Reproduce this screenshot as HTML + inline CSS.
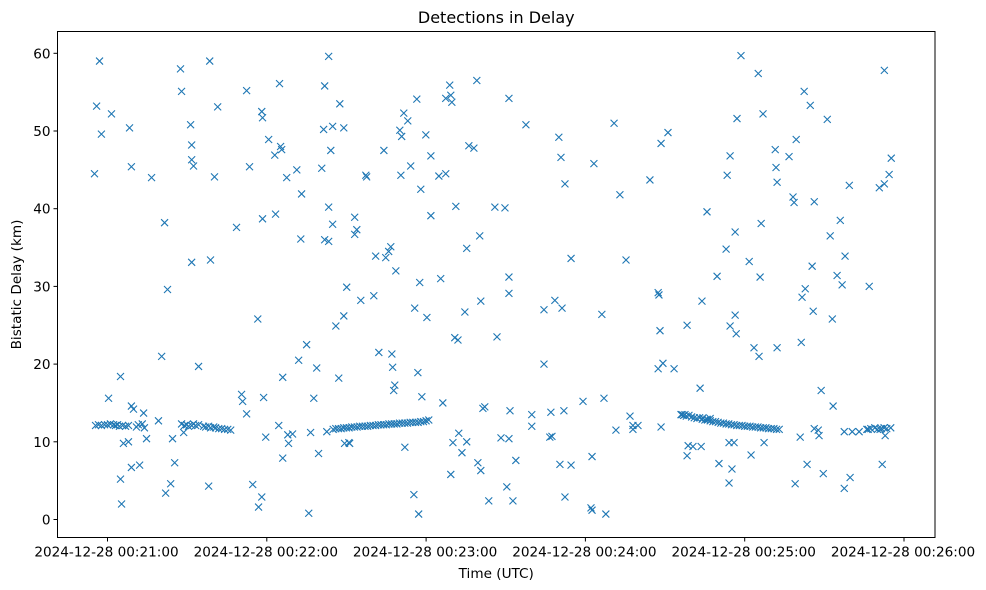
<!DOCTYPE html>
<html><head><meta charset="utf-8"><style>
body{margin:0;background:#fff;}
svg{display:block;font-family:"DejaVu Sans","Liberation Sans",sans-serif;}
</style></head><body>
<svg id="chart" width="986" height="590"></svg>
<script>
const tickSeconds=[60,120,180,240,300,360];
const tickLabels=["2024-12-28 00:21:00","2024-12-28 00:22:00","2024-12-28 00:23:00","2024-12-28 00:24:00","2024-12-28 00:25:00","2024-12-28 00:26:00"];
const yTicks=[0,10,20,30,40,50,60];
const scatterTimes=[
55.1,55.9,57.0,57.7,60.4,61.5,64.9,64.9,65.3,66.0,
67.9,68.3,69.0,69.0,69.8,69.0,72.1,73.6,74.7,76.6,
79.2,80.4,81.5,81.9,82.6,83.8,84.5,85.3,87.5,87.9,
88.7,91.3,91.7,91.7,91.7,92.4,94.3,98.1,98.5,98.8,
100.3,101.5,108.6,110.5,110.9,112.4,112.4,113.5,114.7,116.6,
116.9,118.1,118.1,118.4,118.4,118.8,119.6,120.7,123.0,123.3,
124.5,124.8,125.2,125.6,126.0,126.0,127.5,127.9,128.2,129.7,
131.3,132.0,132.8,133.1,135.0,135.8,136.5,137.7,138.8,139.5,
140.7,141.4,141.8,141.8,142.6,143.3,143.3,143.3,144.1,144.8,
144.8,146.0,147.1,147.5,149.0,149.0,149.3,150.1,150.9,151.2,
153.1,153.1,153.9,155.4,157.3,157.6,160.3,161.0,162.2,164.1,
164.8,165.9,166.7,167.1,167.4,167.8,168.2,168.6,170.1,170.5,
170.8,171.6,172.0,173.1,174.2,175.4,175.7,176.5,176.9,177.2,
177.6,178.0,178.4,179.9,180.3,181.8,181.8,184.8,185.5,186.3,
187.4,187.4,188.9,189.3,189.3,189.7,190.1,190.8,191.2,192.0,
192.3,193.5,194.6,195.3,195.3,196.1,198.0,199.1,199.5,200.2,
200.6,200.6,201.4,202.1,203.6,205.9,206.7,208.2,209.7,210.4,
211.2,211.2,211.2,211.2,211.6,212.7,213.8,217.6,219.8,219.8,
224.4,224.4,226.6,227.0,227.4,228.5,230.0,230.4,230.8,231.2,
231.9,232.3,232.3,234.6,234.6,239.1,242.1,242.5,242.5,243.2,
246.2,247.0,247.7,250.8,251.5,253.0,255.3,256.8,257.9,257.9,
259.8,264.3,267.4,267.7,267.4,268.1,268.5,268.5,269.2,271.1,
273.4,276.4,277.5,278.3,278.3,278.7,280.5,283.2,283.6,283.9,
284.3,285.8,285.8,287.0,289.6,290.3,293.0,293.4,294.1,294.1,
294.5,294.5,295.2,296.4,296.4,296.0,296.8,297.1,298.6,301.7,
302.4,303.5,305.1,305.4,305.8,306.2,306.9,307.3,311.5,311.8,
312.2,312.2,316.7,318.2,318.6,319.0,319.4,320.9,321.3,321.6,
322.4,322.8,323.5,324.7,325.4,325.8,326.2,326.2,327.7,328.0,
328.8,329.6,331.1,332.2,333.0,333.3,334.8,336.0,336.7,337.5,
337.5,337.8,339.4,339.7,340.5,343.1,346.5,346.9,350.7,351.0,
351.8,352.6,352.6,352.9,354.4,355.2];
const scatterDelays=[
44.5,53.2,59,49.6,15.6,52.2,18.4,5.2,2,9.8,
10,50.4,45.4,14.6,14.2,6.7,7,13.7,10.4,44,
12.7,21,38.2,3.4,29.6,4.6,10.4,7.3,58,55.1,
11.2,50.8,48.2,46.3,33.1,45.5,19.7,4.3,59,33.4,
44.1,53.1,37.6,16.1,15.2,55.2,13.6,45.4,4.5,25.8,
1.6,2.9,52.5,51.7,38.7,15.7,10.6,48.9,46.9,39.3,
12.1,56.1,48,47.6,18.3,7.9,44,10.9,9.8,11,
45,20.5,36.1,41.9,22.5,0.8,11.2,15.6,19.5,8.5,
45.2,50.2,55.8,36,11.3,59.6,40.2,35.8,47.5,50.6,
38,24.9,18.2,53.5,26.2,50.4,9.8,29.9,9.9,9.8,
38.9,36.7,37.3,28.2,44.3,44.1,28.8,33.9,21.5,47.5,
33.7,34.5,35.1,21.3,19.6,16.6,17.3,32,50.1,44.3,
49.3,52.3,9.3,51.3,45.5,3.2,27.2,54.1,18.9,0.7,
30.5,42.5,15.8,49.5,26,39.1,46.8,44.2,31,15,
44.5,54.2,55.9,5.8,54.6,53.7,9.9,23.4,40.3,23.1,
11.1,8.6,26.7,10,34.9,48.1,47.8,56.5,7.3,36.5,
28.1,6.3,14.3,14.5,2.4,40.2,23.5,10.5,40.1,4.2,
54.2,31.2,29.1,10.4,14,2.4,7.6,50.8,12,13.5,
27,20,10.6,13.8,10.7,28.2,49.2,7.1,46.6,27.2,
14,43.2,2.9,7,33.6,15.2,1.5,1.2,8.1,45.8,
26.4,15.6,0.7,51,11.5,41.8,33.4,13.3,12.1,11.6,
12.1,43.7,29.2,28.9,19.4,24.3,11.9,48.4,20.1,49.8,
19.4,13.5,13.5,25,8.2,9.5,9.4,16.9,9.4,28.1,
13.1,39.6,12.9,13,31.3,7.2,34.8,44.3,4.7,9.9,
46.8,24.9,6.5,37,26.3,9.9,23.9,51.6,59.7,33.2,
8.3,22.1,57.4,21,31.2,38.1,52.2,9.9,47.6,45.3,
43.4,22.1,46.7,41.5,40.8,4.6,48.9,10.6,22.8,28.6,
55.1,29.7,7.1,53.3,32.6,26.8,40.9,11.7,11.5,10.8,
16.6,5.9,51.5,36.5,25.8,14.6,31.4,38.5,30.2,4,
11.3,33.9,43,5.4,11.3,11.3,11.6,30,42.7,11.6,
7.1,57.8,43.2,10.8,44.4,46.5];
const band1Times=[55.5,56.6,57.7,58.9,60,61.1,62.3,63,63.8,64.5,65.7,66.8,67.9,70.9,71.6,73.1,73.9];
const band1Delays=[12.1,12.2,12.1,12.2,12.2,12.3,12.2,12.1,12.2,12.0,12.1,12.0,12.1,11.9,12.2,12.3,11.8];
const band2Times=[87.9,89,89.8,90.5,91.7,92.4,93.2,94.3,96.2,97,98.1,98.8,100,100.7,101.9,103,104.1,105.3,106.4];
const band2Delays=[12.3,12.1,12.2,12.0,12.1,12.3,12.1,12.2,12.0,11.9,12.0,11.8,11.9,11.8,11.7,11.7,11.6,11.6,11.5];
const band3Times=[145,146,147,148,149,150,151,152,153,154,155,156,157,158,159,160,161,162,163,164,165,166,167,168,169,170,171,172,173,174,175,176,177,178,179,180,181];
const band3Delays=[11.6,11.7,11.7,11.7,11.8,11.8,11.8,11.9,11.9,11.9,12.0,12.0,12.0,12.0,12.1,12.1,12.1,12.2,12.2,12.2,12.2,12.3,12.3,12.3,12.3,12.4,12.4,12.4,12.4,12.5,12.5,12.5,12.5,12.6,12.6,12.7,12.8];
const band4Times=[276,277,278,279,280,281,282,283,284,285,286,287,288,289,290,291,292,293,294,295,296,297,298,299,300,301,302,303,304,305,306,307,308,309,310,311,312,313];
const band4Delays=[13.5,13.4,13.3,13.4,13.2,13.1,13.0,13.1,12.9,12.8,12.8,12.7,12.6,12.6,12.5,12.4,12.4,12.3,12.3,12.2,12.2,12.1,12.1,12.1,12.0,12.0,12.0,11.9,11.9,11.9,11.8,11.8,11.8,11.7,11.7,11.7,11.6,11.6];
const band5Times=[346,347.5,349,350,351.5,352.5,353.5,355];
const band5Delays=[11.6,11.7,11.8,11.6,11.7,11.8,11.7,11.8];

const NS="http://www.w3.org/2000/svg";
const svg=document.getElementById('chart');
const L=57.5,R=935,T=31.5,B=537.5;
function xs(s){return 107.5+(s-60)*2.655;}
function ys(k){return 519.5-k*7.77;}
function mk(tag,attrs,parent){const e=document.createElementNS(NS,tag);for(const k in attrs)e.setAttribute(k,attrs[k]);(parent||svg).appendChild(e);return e;}

const marks=mk('g',{stroke:'#1f77b4','stroke-width':'1.1',fill:'none'});


function drawSeries(ts,ds,name){
  for(let i=0;i<ts.length;i++){
    const cx=xs(ts[i]),cy=ys(ds[i]),r=3.5;
    const p=mk('path',{d:`M${cx-r},${cy-r}L${cx+r},${cy+r}M${cx-r},${cy+r}L${cx+r},${cy-r}`},marks);
    
    
  }
}
drawSeries(scatterTimes,scatterDelays,'detection-point');
drawSeries(band1Times,band1Delays,'detection-point');
drawSeries(band2Times,band2Delays,'detection-point');
drawSeries(band3Times,band3Delays,'detection-point');
drawSeries(band4Times,band4Delays,'detection-point');
drawSeries(band5Times,band5Delays,'detection-point');

const frame=mk('rect',{x:L,y:T,width:R-L,height:B-T,fill:'none',stroke:'#000','stroke-width':'1'});



for(let i=0;i<tickSeconds.length;i++){
  const x=xs(tickSeconds[i]);
  mk('line',{x1:x,x2:x,y1:B,y2:B+4,stroke:'#000'});
  const t=mk('text',{x:x-1,y:B+19,'text-anchor':'middle','font-size':'13.6'});
  t.textContent=tickLabels[i];
  
  
}
for(let i=0;i<yTicks.length;i++){
  const y=ys(yTicks[i]);
  mk('line',{x1:L-4,x2:L,y1:y,y2:y,stroke:'#000'});
  const t=mk('text',{x:L-7,y:y+5,'text-anchor':'end','font-size':'13.6'});
  t.textContent=yTicks[i];
  
  
}
const title=mk('text',{x:(L+R)/2,y:23,'text-anchor':'middle','font-size':'16'});
title.textContent='Detections in Delay';


const xt=mk('text',{x:(L+R)/2,y:578,'text-anchor':'middle','font-size':'13.6'});
xt.textContent='Time (UTC)';


const yt=mk('text',{x:0,y:0,'text-anchor':'middle','font-size':'13.6',transform:`translate(21,${(T+B)/2}) rotate(-90)`});
yt.textContent='Bistatic Delay (km)';


</script>
</body></html>
